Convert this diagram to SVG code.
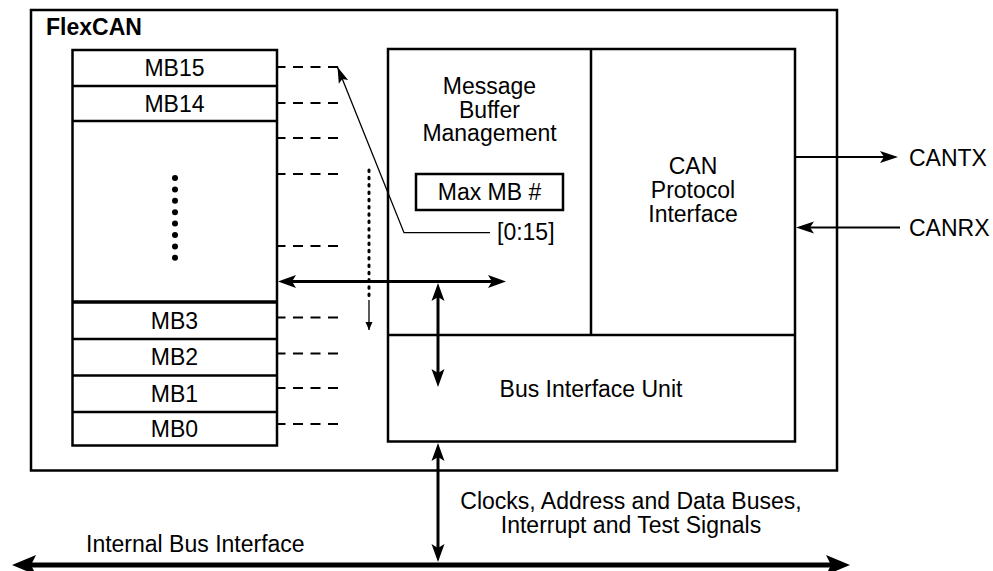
<svg xmlns="http://www.w3.org/2000/svg" width="993" height="571" viewBox="0 0 993 571">
<style>
  text { font-family: "Liberation Sans", Arial, sans-serif; font-size: 23px; fill: #000; }
  .c { text-anchor: middle; }
  .box { fill: none; stroke: #000; stroke-width: 2.5; }
  .dash { fill: none; stroke: #000; stroke-width: 2; stroke-dasharray: 10 7.5; }
  .thick { fill: none; stroke: #000; stroke-width: 3; }
  .thin { fill: none; stroke: #000; stroke-width: 2; }
  .hair { fill: none; stroke: #000; stroke-width: 1.3; }
</style>
<defs>
  <marker id="ah" markerUnits="userSpaceOnUse" markerWidth="18" markerHeight="13" refX="4" refY="6.5" orient="auto-start-reverse" overflow="visible">
    <path d="M0,0 L18,6.5 L0,13 L4,6.5 z" fill="#000"/>
  </marker>
  <marker id="big" markerUnits="userSpaceOnUse" markerWidth="24" markerHeight="20" refX="5" refY="10" orient="auto-start-reverse" overflow="visible">
    <path d="M0,0 L24,10 L0,20 L5,10 z" fill="#000"/>
  </marker>
  <marker id="thinah" markerUnits="userSpaceOnUse" markerWidth="18" markerHeight="12" refX="4" refY="6" orient="auto" overflow="visible">
    <path d="M0,0 L18,6 L0,12 L4,6 z" fill="#000"/>
  </marker>
  <marker id="small" markerUnits="userSpaceOnUse" markerWidth="16" markerHeight="10" refX="16" refY="5" orient="auto" overflow="visible">
    <path d="M0,0 L16,5 L0,10 L3,5 z" fill="#000"/>
  </marker>
  <marker id="tiny" markerUnits="userSpaceOnUse" markerWidth="8" markerHeight="7" refX="8" refY="3.5" orient="auto" overflow="visible">
    <path d="M0,0 L8,3.5 L0,7 z" fill="#000"/>
  </marker>
</defs>
<rect width="993" height="571" fill="#fff"/>

<g id="flexcan">
  <rect class="box" x="31" y="10" width="806" height="460.5"/>
  <text x="46" y="35" style="font-weight:bold">FlexCAN</text>
</g>

<g id="mb-array">
  <rect class="box" x="72.5" y="50" width="204.5" height="395.5"/>
  <line class="box" x1="72.5" y1="86" x2="277" y2="86"/>
  <line class="box" x1="72.5" y1="121" x2="277" y2="121"/>
  <line x1="72.5" y1="302" x2="277" y2="302" stroke="#000" stroke-width="3.5"/>
  <line class="box" x1="72.5" y1="339" x2="277" y2="339"/>
  <line class="box" x1="72.5" y1="375.5" x2="277" y2="375.5"/>
  <line class="box" x1="72.5" y1="412" x2="277" y2="412"/>
  <text class="c" x="174.5" y="76">MB15</text>
  <text class="c" x="174.5" y="111.5">MB14</text>
  <text class="c" x="174.5" y="328.5">MB3</text>
  <text class="c" x="174.5" y="365">MB2</text>
  <text class="c" x="174.5" y="401.5">MB1</text>
  <text class="c" x="174.5" y="436.5">MB0</text>
  <g fill="#000">
    <circle cx="175" cy="178" r="3"/>
    <circle cx="175" cy="189.4" r="3"/>
    <circle cx="175" cy="200.8" r="3"/>
    <circle cx="175" cy="212.2" r="3"/>
    <circle cx="175" cy="223.6" r="3"/>
    <circle cx="175" cy="235" r="3"/>
    <circle cx="175" cy="246.4" r="3"/>
    <circle cx="175" cy="257.8" r="3"/>
  </g>
</g>

<g id="mbm">
  <rect class="box" x="388" y="49" width="407" height="392.5"/>
  <line class="box" x1="591" y1="49" x2="591" y2="335"/>
  <line class="box" x1="388" y1="335" x2="795" y2="335"/>
  <text class="c" x="489.5" y="94">Message</text>
  <text class="c" x="489.5" y="117.5">Buffer</text>
  <text class="c" x="489.5" y="141">Management</text>
</g>

<g id="maxmb">
  <rect class="box" x="416" y="174" width="147" height="36"/>
  <text class="c" x="489.5" y="200">Max MB #</text>
</g>

<g id="cpi">
  <text class="c" x="693" y="174">CAN</text>
  <text class="c" x="693" y="198">Protocol</text>
  <text class="c" x="693" y="222">Interface</text>
</g>

<g id="biu">
  <text class="c" x="591" y="397">Bus Interface Unit</text>
</g>

<g id="labels">
  <text x="909" y="166">CANTX</text>
  <text x="909" y="236">CANRX</text>
  <text x="497" y="240">[0:15]</text>
  <text class="c" x="631" y="509">Clocks, Address and Data Buses,</text>
  <text class="c" x="631" y="533">Interrupt and Test Signals</text>
  <text x="86" y="552">Internal Bus Interface</text>
</g>

<g id="connectors">
  <line class="dash" x1="338" y1="67" x2="277" y2="67"/>
  <line class="dash" x1="338" y1="103" x2="277" y2="103"/>
  <line class="dash" x1="338" y1="138" x2="277" y2="138"/>
  <line class="dash" x1="338" y1="174" x2="277" y2="174"/>
  <line class="dash" x1="338" y1="246" x2="277" y2="246"/>
  <line class="dash" x1="338" y1="317.5" x2="277" y2="317.5"/>
  <line class="dash" x1="338" y1="353.5" x2="277" y2="353.5"/>
  <line class="dash" x1="338" y1="388" x2="277" y2="388"/>
  <line class="dash" x1="338" y1="424" x2="277" y2="424"/>

  <polyline class="hair" points="490,232.7 404,232.7 337.5,67" marker-end="url(#small)"/>

  <line x1="369" y1="170" x2="369" y2="300" stroke="#000" stroke-width="3" stroke-linecap="round" stroke-dasharray="1.5 5.8"/>
  <line class="hair" x1="369" y1="300" x2="369" y2="330" marker-end="url(#tiny)"/>

  <line class="thick" x1="292" y1="281.5" x2="492" y2="281.5" marker-start="url(#ah)" marker-end="url(#ah)"/>
  <line class="thick" x1="438" y1="297" x2="438" y2="373" marker-start="url(#ah)" marker-end="url(#ah)"/>
  <line class="thick" x1="438" y1="457" x2="438" y2="548" marker-start="url(#ah)" marker-end="url(#ah)"/>

  <line class="thin" x1="795" y1="157" x2="884" y2="157" marker-end="url(#thinah)"/>
  <line class="thin" x1="900" y1="227.5" x2="810" y2="227.5" marker-end="url(#thinah)"/>

  <line x1="31" y1="565" x2="831" y2="565" stroke="#000" stroke-width="5" marker-start="url(#big)" marker-end="url(#big)"/>
</g>
</svg>
